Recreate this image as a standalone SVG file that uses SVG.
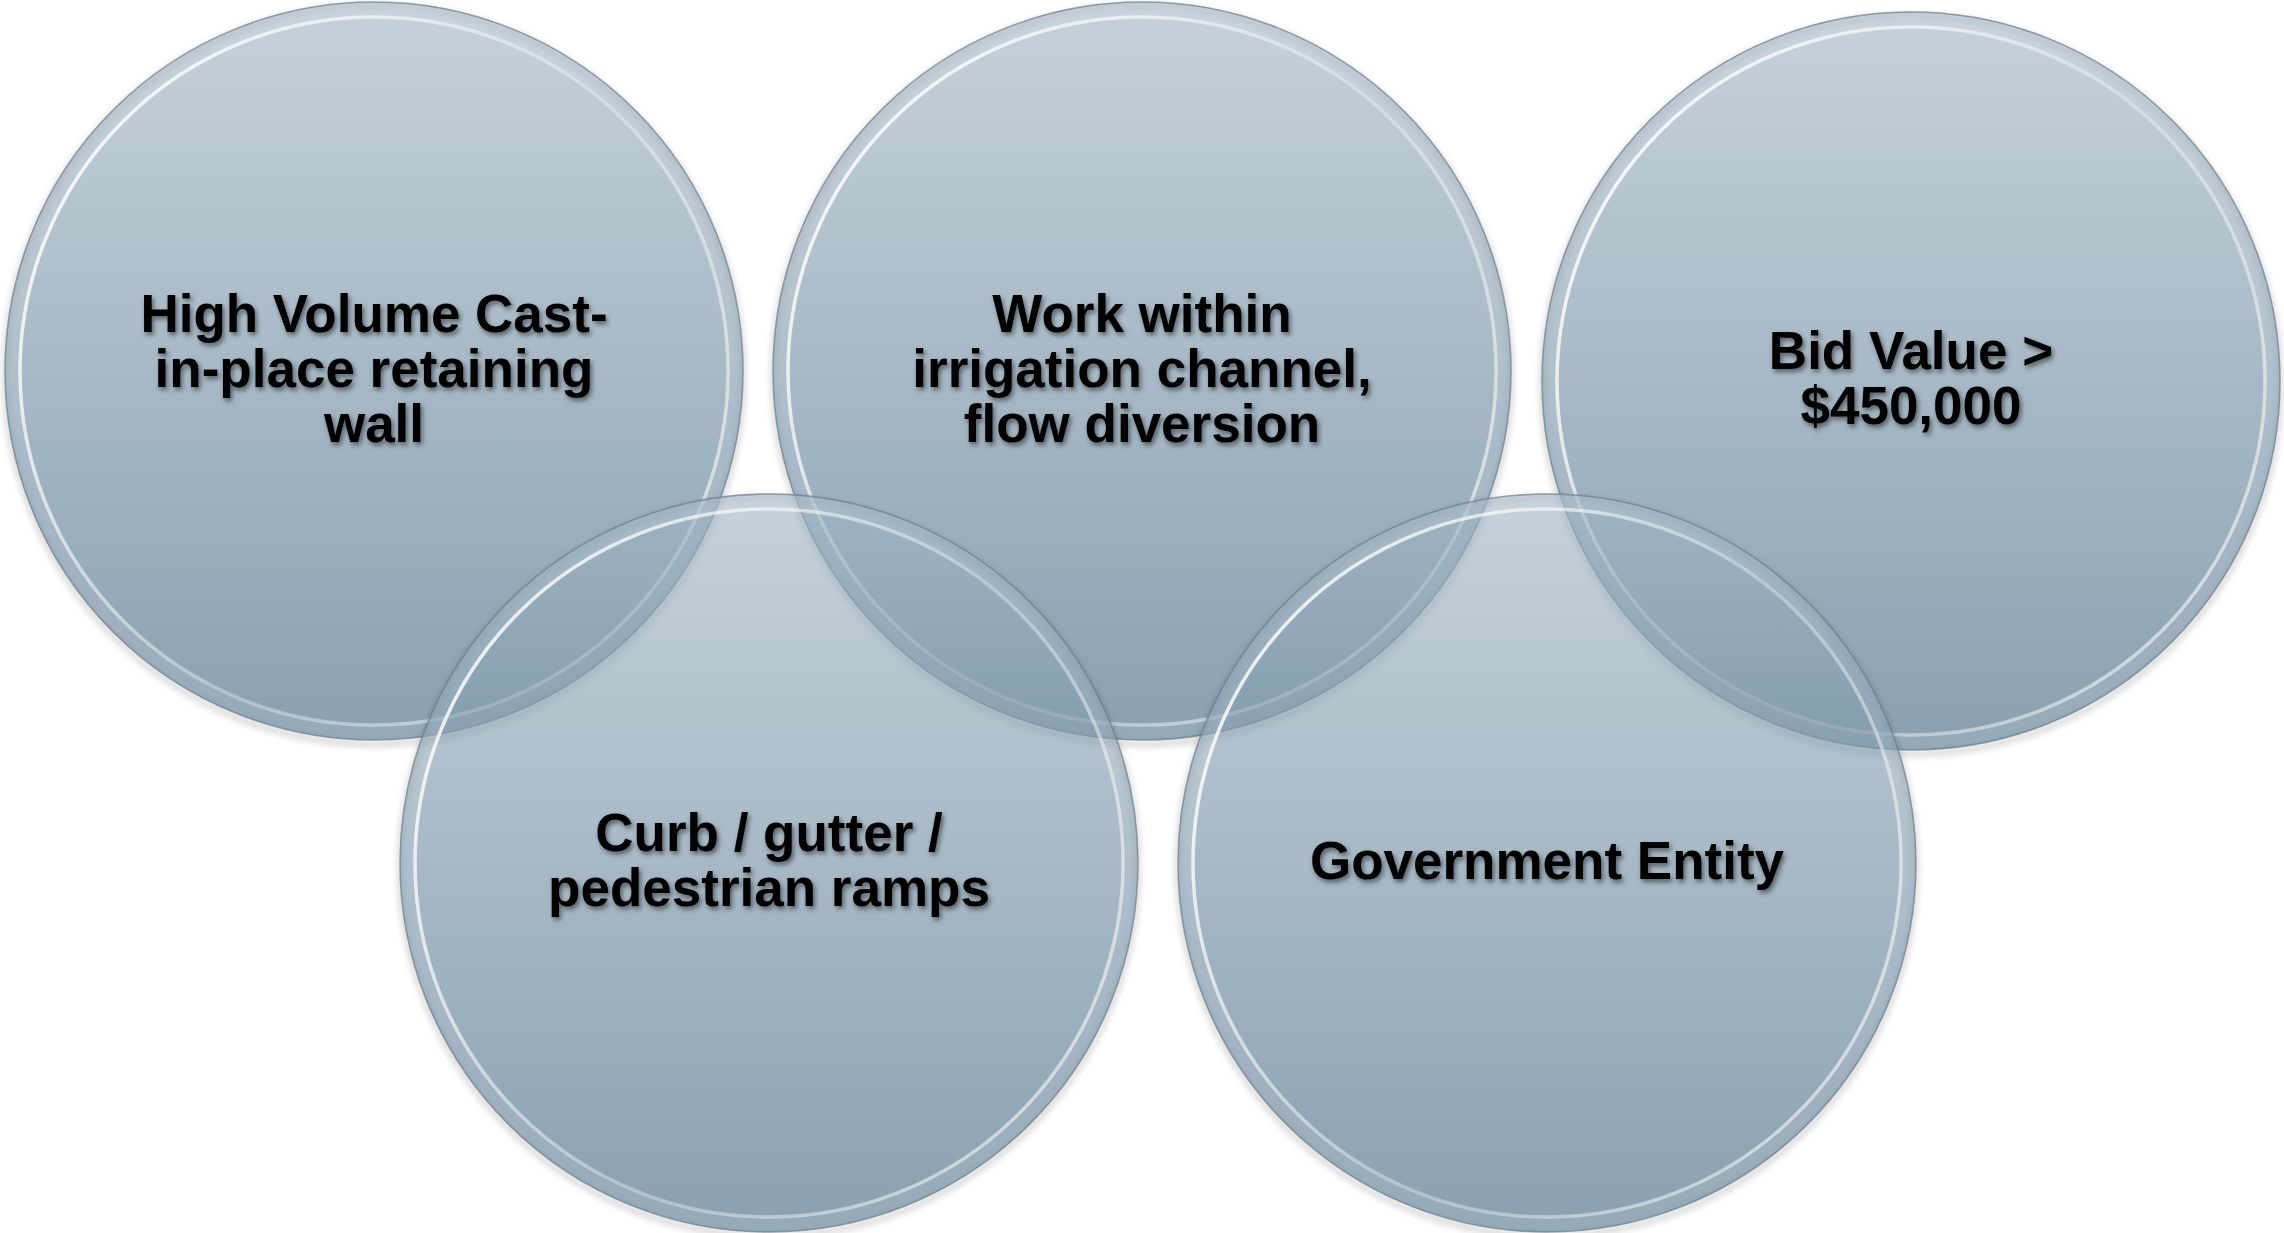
<svg xmlns="http://www.w3.org/2000/svg" width="2284" height="1233" viewBox="0 0 2284 1233">
<defs>
<linearGradient id="g" x1="0" y1="0" x2="0" y2="1">
 <stop offset="0" stop-color="rgb(160,182,197)"/>
 <stop offset="1" stop-color="rgb(66,102,127)"/>
</linearGradient>
<linearGradient id="ringg" x1="0" y1="0.2" x2="1" y2="0.8">
 <stop offset="0" stop-color="#ffffff" stop-opacity="0.9"/>
 <stop offset="0.55" stop-color="#ffffff" stop-opacity="0.3"/>
 <stop offset="1" stop-color="#ffffff" stop-opacity="0.6"/>
</linearGradient>
<filter id="ts" x="-10%" y="-30%" width="120%" height="160%">
 <feDropShadow dx="2" dy="3" stdDeviation="2.5" flood-color="#000" flood-opacity="0.5"/>
</filter>
<filter id="blur" x="-5%" y="-5%" width="110%" height="110%"><feGaussianBlur stdDeviation="3"/></filter>
</defs>
<style>
.disc{fill:url(#g);fill-opacity:0.62;stroke:#6f8290;stroke-width:1.5;stroke-opacity:0.75}
.band{fill:none;stroke:#ffffff;stroke-opacity:0.1;stroke-width:14}
.ring{fill:none;stroke:url(#ringg);stroke-width:3.5}
.shadow{fill:none;stroke:#000;stroke-opacity:0.18;stroke-width:5;filter:url(#blur)}
.lbl{font-family:"Liberation Sans",Arial,sans-serif;font-weight:bold;font-size:53px;fill:#000;text-anchor:middle;filter:url(#ts)}
</style>
<g id="connectors"/>
<g id="node1">
 <circle class="shadow" cx="374" cy="375" r="369"/>
 <circle class="disc" cx="374" cy="371" r="369"/>
 <circle class="band" cx="374" cy="371" r="361"/>
 <circle class="ring" cx="374" cy="371" r="354"/>
 <text class="lbl" x="374" y="332">High Volume Cast-</text>
 <text class="lbl" x="374" y="387">in-place retaining</text>
 <text class="lbl" x="374" y="442">wall</text>
</g>
<g id="node2">
 <circle class="shadow" cx="1142" cy="375" r="369"/>
 <circle class="disc" cx="1142" cy="371" r="369"/>
 <circle class="band" cx="1142" cy="371" r="361"/>
 <circle class="ring" cx="1142" cy="371" r="354"/>
 <text class="lbl" x="1142" y="332">Work within</text>
 <text class="lbl" x="1142" y="387">irrigation channel,</text>
 <text class="lbl" x="1142" y="442">flow diversion</text>
</g>
<g id="node3">
 <circle class="shadow" cx="1911" cy="385" r="369"/>
 <circle class="disc" cx="1911" cy="381" r="369"/>
 <circle class="band" cx="1911" cy="381" r="361"/>
 <circle class="ring" cx="1911" cy="381" r="354"/>
 <text class="lbl" x="1911" y="369">Bid Value &gt;</text>
 <text class="lbl" x="1911" y="424">$450,000</text>
</g>
<g id="node4">
 <circle class="shadow" cx="769" cy="867" r="369"/>
 <circle class="disc" cx="769" cy="863" r="369"/>
 <circle class="band" cx="769" cy="863" r="361"/>
 <circle class="ring" cx="769" cy="863" r="354"/>
 <text class="lbl" x="769" y="851">Curb / gutter /</text>
 <text class="lbl" x="769" y="906">pedestrian ramps</text>
</g>
<g id="node5">
 <circle class="shadow" cx="1547" cy="867" r="369"/>
 <circle class="disc" cx="1547" cy="863" r="369"/>
 <circle class="band" cx="1547" cy="863" r="361"/>
 <circle class="ring" cx="1547" cy="863" r="354"/>
 <text class="lbl" x="1547" y="879">Government Entity</text>
</g>
</svg>
